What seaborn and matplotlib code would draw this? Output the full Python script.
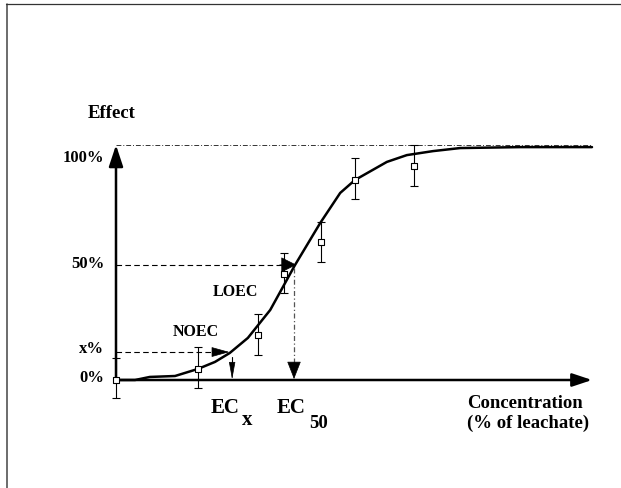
import matplotlib
matplotlib.use("Agg")
import matplotlib.pyplot as plt
from matplotlib.lines import Line2D
import seaborn as sns
import pandas as pd

sns.set_theme(style="white")
plt.rcParams['font.family'] = ['Liberation Serif', 'DejaVu Serif']
plt.rcParams['font.weight'] = 'bold'

# Dose-response curve (concentration in arbitrary units 0-100, effect in %)
curve_x = [0, 4.0, 7.1, 12.4, 17.2, 20.8, 23.9, 27.7, 32.4, 37.6, 42.9, 47.1,
           50.2, 56.9, 61.1, 66.6, 72.3, 84.9, 100]
curve_y = [0, 0, 1.3, 1.7, 4.7, 7.7, 11.5, 17.9, 29.8, 48.9, 66.8, 79.6,
           85.1, 92.8, 95.7, 97.4, 98.7, 99.1, 99.1]

# Observed points with error bars
obs_x = [0, 17.2, 29.8, 35.3, 43.1, 50.2, 62.6]
obs_y = [0, 4.7, 19.1, 45.1, 58.7, 85.1, 91.1]
err_low = [7.7, 8.1, 8.5, 8.1, 8.5, 8.1, 8.5]
err_high = [9.4, 9.3, 9.0, 8.9, 8.5, 9.4, 8.9]

# Levels
level_100 = 100
level_50 = 49
level_x = 11.9
ec50 = 37.4
ecx = 24.4

ytick_labels = ["100%", "50%", "x%", "0%"]
ytick_pos = [94.5, 49.4, 13.2, 0.9]

fig = plt.figure(figsize=(6.21, 4.88), dpi=100)
ax = fig.add_axes([0, 0, 1, 1])
ax.set_xlim(-116 / 4.76, (621 - 116) / 4.76)
ax.set_ylim(-(488 - 380) / 2.35, 380 / 2.35)
ax.axis('off')

# frame border
fig.add_artist(Line2D([6.5 / 621, 6.5 / 621], [0, 1 - 4 / 488], transform=fig.transFigure,
                      color='#444444', lw=1.1))
fig.add_artist(Line2D([6 / 621, 1], [1 - 4 / 488, 1 - 4 / 488], transform=fig.transFigure,
                      color='#333333', lw=0.9))

# 100% dash-dot line
ax.plot([0, 100], [level_100, level_100], color='#333333', lw=0.7,
        linestyle=(0, (5, 2, 1, 2)))

def arrow(x0, y0, x1, y1, hl, hw, lw=0.0, color='black', ls='-'):
    ax.annotate('', xy=(x1, y1), xytext=(x0, y0),
                arrowprops=dict(arrowstyle=f'-|>,head_length={hl},head_width={hw}',
                                color=color, lw=lw, shrinkA=0, shrinkB=0,
                                mutation_scale=1, linestyle=ls))

# axes arrows
arrow(0, -0.5, 0, level_100, 13, 4.3, lw=1.8)
arrow(-0.3, 0, 100, 0, 12, 4.0, lw=1.8)

# curve
df_curve = pd.DataFrame({'x': curve_x, 'y': curve_y})
sns.lineplot(data=df_curve, x='x', y='y', sort=False, estimator=None,
             color='black', lw=1.8, ax=ax)

# 50% dashed guide + arrowhead
ax.plot([0, 35.0], [level_50, level_50], color='black', lw=0.8,
        linestyle=(0, (5, 3)))
arrow(34.4, level_50, 37.9, level_50, 10, 5.0, lw=0.5)

# x% dashed guide + arrowhead
ax.plot([0, 20.6], [level_x, level_x], color='black', lw=0.8,
        linestyle=(0, (5, 3)))
arrow(20.2, level_x, 23.8, level_x, 11.5, 3.2, lw=0.5)

# EC50 vertical
ax.plot([ec50, ec50], [47.7, 6.8], color='#555555', lw=0.9,
        linestyle=(0, (4, 2, 1, 2)))
arrow(ec50, 7.5, ec50, 0.4, 11.5, 4.5, lw=0.5)

# ECx vertical
ax.plot([ecx, ecx], [9.8, 5], color='black', lw=0.8)
arrow(ecx, 6.5, ecx, 0.2, 11, 2.0, lw=0.5)

# error bars and markers
ax.errorbar(obs_x, obs_y, yerr=[err_low, err_high], fmt='none', ecolor='black',
            elinewidth=0.8, capsize=2.6, capthick=0.8, zorder=3)
df_obs = pd.DataFrame({'x': obs_x, 'y': obs_y})
sns.scatterplot(data=df_obs, x='x', y='y', marker='s', s=20, color='white',
                edgecolor='black', linewidth=0.8, zorder=4, ax=ax)
ax.set_xlabel('')
ax.set_ylabel('')

# texts
tk = dict(fontweight='bold', color='black')
for lab, yp in zip(ytick_labels, ytick_pos):
    ax.text(-2.5, yp, lab, ha='right', va='center', fontsize=12, **tk)

ax.text(-0.95, 113.2, "Effect", ha='center', va='center', fontsize=13.5, **tk)
ax.text(16.7, 20.4, "NOEC", ha='center', va='center', fontsize=11.5, **tk)
ax.text(25.0, 37.4, "LOEC", ha='center', va='center', fontsize=11.5, **tk)
ax.text(22.9, -11.9, "EC", ha='center', va='center', fontsize=15, **tk)
ax.text(27.6, -17.0, "x", ha='center', va='center', fontsize=15, **tk)
ax.text(36.8, -11.9, "EC", ha='center', va='center', fontsize=15, **tk)
ax.text(42.6, -18.3, "50", ha='center', va='center', fontsize=13.5, **tk)
ax.text(86.0, -9.8, "Concentration", ha='center', va='center', fontsize=13.5, **tk)
ax.text(86.6, -18.3, "(% of leachate)", ha='center', va='center', fontsize=13.5, **tk)

fig.savefig("out.png", dpi=100)
